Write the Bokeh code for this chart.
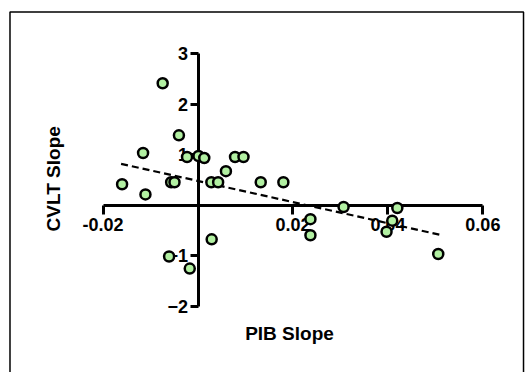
from bokeh.plotting import figure
from bokeh.models import FixedTicker, PrintfTickFormatter, Range1d, ColumnDataSource
from bokeh.core.properties import value
from bokeh.embed import file_html
from bokeh.resources import INLINE

# data
pib_slope = [-0.00744, -0.00402, -0.01157, -0.01599, -0.01107, -0.00566, -0.00495,
             -0.00231, 0.00010, 0.00132, 0.00281, 0.00424, 0.00588, 0.00780,
             0.00958, 0.01321, 0.01798, 0.03066, 0.04198, 0.02368, 0.02368,
             0.04091, 0.03971, 0.05060, 0.00288, -0.00609, -0.00174]
cvlt_slope = [2.42, 1.39, 1.04, 0.42, 0.22, 0.46, 0.46,
              0.96, 0.98, 0.94, 0.46, 0.46, 0.68, 0.96,
              0.96, 0.46, 0.46, -0.03, -0.05, -0.27, -0.59,
              -0.30, -0.52, -0.96, -0.67, -1.01, -1.25]
fit_x = [-0.0162, 0.0510]
fit_y = [0.825, -0.581]
x_ticks = [-0.02, 0.02, 0.04, 0.06]
y_ticks = [-2, -1, 1, 2, 3]
x_label = "PIB Slope"
y_label = "CVLT Slope"

FONT = "Liberation Sans"

p = figure(width=529, height=372, output_backend="svg", toolbar_location=None,
           x_range=Range1d(-0.04160, 0.06982), y_range=Range1d(-3.307, 4.0594),
           min_border=0)
p.outline_line_color = None
p.grid.visible = False
p.background_fill_color = "white"
p.border_fill_color = "white"

for ax in (p.xaxis[0], p.yaxis[0]):
    ax.fixed_location = 0
    ax.axis_line_width = 3
    ax.axis_line_color = "black"
    ax.major_tick_line_width = 3
    ax.major_tick_line_color = "black"
    ax.major_tick_in = 0
    ax.minor_tick_line_color = None
    ax.major_label_text_font = FONT
    ax.major_label_text_font_style = "bold"
    ax.major_label_text_font_size = "18px"
    ax.major_label_text_color = "black"

p.xaxis[0].bounds = (x_ticks[0], x_ticks[-1])
p.xaxis[0].ticker = FixedTicker(ticks=x_ticks)
p.xaxis[0].formatter = PrintfTickFormatter(format="%.2f")
p.xaxis[0].major_tick_out = 9
p.xaxis[0].major_label_standoff = 4

p.yaxis[0].bounds = (y_ticks[0], y_ticks[-1])
p.yaxis[0].ticker = FixedTicker(ticks=y_ticks)
p.yaxis[0].major_tick_out = 8
p.yaxis[0].major_label_standoff = 2

# outer frame (left, top, right edges; bottom lies below the visible area)
p.line([-0.0396, -0.0396, 0.06856, 0.06856], [-3.6, 3.832, 3.832, -3.6],
       line_color="black", line_width=1.5)

# regression line
p.line(fit_x, fit_y, line_color="black", line_width=2.2, line_dash="7 4", level="overlay")

src = ColumnDataSource(dict(x=pib_slope, y=cvlt_slope))
p.scatter("x", "y", source=src, size=10, fill_color="#b2f0a2", line_color="black",
          line_width=2.5, level="overlay")

# axis titles
p.text(x=[0.01927], y=[-2.535], text=[x_label], text_font=value(FONT),
       text_font_style="bold", text_font_size="19px", text_align="center",
       text_baseline="alphabetic", text_color="black")
p.text(x=[-0.0305], y=[0.529], text=[y_label], text_font=value(FONT),
       text_font_style="bold", text_font_size="19px", text_align="center",
       text_baseline="alphabetic", text_color="black", angle=1.5708)

open("out.html", "w").write(file_html(p, INLINE))
